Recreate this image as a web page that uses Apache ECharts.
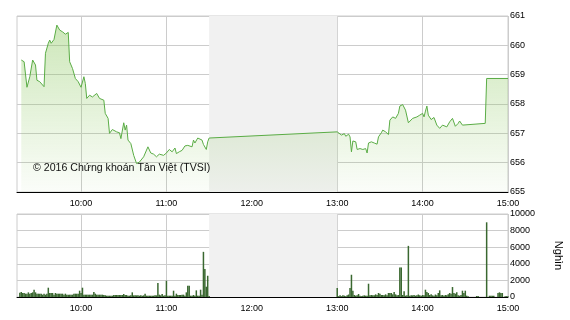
<!DOCTYPE html>
<html><head><meta charset="utf-8">
<script src="https://cdn.jsdelivr.net/npm/echarts@6/dist/echarts.min.js"></script>
<style>html,body{margin:0;padding:0;background:#fff}#c{width:570px;height:320px}</style>
</head><body><div id="c"></div>
<script>
// Price (VN-Index intraday)
const priceTimes = ['09:18','09:20','09:22','09:24','09:26','09:28','09:29','09:31','09:34','09:35',
 '09:37','09:38','09:39','09:41','09:42','09:43','09:44','09:45','09:47','09:49',
 '09:51','09:52','09:54','09:56','09:58','10:00','10:02','10:03','10:04','10:06',
 '10:08','10:11','10:13','10:16','10:17','10:19','10:20','10:22','10:25','10:27',
 '10:28','10:30','10:31','10:32','10:33','10:35','10:37','10:39','10:41','10:44',
 '10:47','10:49','10:51','10:53','10:55','10:58','11:00','11:02','11:04','11:06',
 '11:07','11:09','11:11','11:13','11:15','11:18','11:19','11:20','11:22','11:25',
 '11:26','11:28','11:29','11:30',
 '13:00','13:03','13:05','13:06','13:08','13:09','13:10','13:11','13:13','13:14',
 '13:16','13:18','13:20','13:21','13:22','13:24','13:26','13:28','13:29','13:31',
 '13:32','13:34','13:36','13:37','13:39','13:41','13:43','13:44','13:46','13:48',
 '13:50','13:51','13:53','13:54','13:56','13:58','14:00','14:01','14:02','14:03',
 '14:04','14:06','14:08','14:10','14:12','14:14','14:17','14:19','14:21','14:23',
 '14:25','14:26','14:28','14:29','14:44','14:45','15:00'];
const priceValues = [659.50,659.44,658.57,658.93,659.50,659.33,658.81,658.76,658.59,659.73,
 660.07,660.18,660.07,660.20,660.18,660.69,660.64,660.52,660.46,660.38,
 660.44,659.44,659.21,658.87,658.76,658.57,658.93,658.70,658.19,658.30,
 658.24,658.36,658.19,658.13,657.68,657.51,657.00,657.13,657.05,657.02,
 656.82,657.36,657.11,657.28,656.77,656.65,656.25,655.97,656.02,656.20,
 656.54,656.33,656.29,656.20,656.29,656.25,656.33,656.45,656.37,656.50,
 656.31,656.37,656.42,656.57,656.59,656.54,656.77,656.67,656.84,656.77,
 656.62,656.45,656.71,656.84,
 657.05,656.94,656.99,656.90,656.97,656.88,656.37,656.74,656.71,656.45,
 656.48,656.45,656.48,656.33,656.67,656.71,656.67,656.63,656.88,657.02,
 657.11,657.05,656.96,657.45,657.56,657.51,657.68,657.93,657.98,657.79,
 657.36,657.39,657.51,657.45,657.56,657.62,657.68,657.56,657.76,657.93,
 657.62,657.47,657.54,657.28,657.17,657.28,657.22,657.39,657.51,657.24,
 657.34,657.42,657.28,657.34,657.34,658.87,658.87];

// Volume (thousand shares) per minute
const volMorningStart = '09:17';
const volMorning = [500,600,480,480,400,400,560,400,480,560,
 880,560,400,400,400,400,280,400,280,400,
 1120,480,480,480,280,480,400,400,400,400,
 400,280,400,280,280,280,280,280,400,400,
 400,400,760,480,1120,280,280,280,280,280,
 280,280,600,400,280,280,280,280,280,240,
 200,160,160,160,160,160,240,240,240,240,
 240,240,240,360,240,240,160,160,200,560,
 200,200,200,200,160,200,160,200,400,160,
 160,160,160,160,160,200,200,1680,280,200,
 360,160,200,1960,160,160,160,160,760,160,
 400,240,240,240,280,280,160,560,1360,1360,
 160,160,240,160,800,160,160,880,280,5440,
 3360,1240,2560,120];
const volAfternoonStart = '13:00';
const volAfternoon = [1080,100,200,100,200,160,100,200,300,1080,
 2680,760,240,160,200,360,160,100,160,200,
 160,160,1600,200,240,200,200,320,240,480,
 400,240,240,200,320,200,480,480,480,320,
 600,320,200,240,3560,3560,240,680,160,200,
 6160,160,200,200,240,160,200,300,200,160,
 240,200,880,600,480,240,320,200,160,300,
 200,480,800,200,240,160,240,200,320,480,
 400,1200,480,400,560,200,160,240,760,480,
 760,160,100,0,0,0,0,0,120,120,
 0,0,0,0,0,9000,0,150,150,150,
 150,0,0,480,560,480,480,0,100,100,
 100];

const priceTicks = [655,656,657,658,659,660,661];
const volTicks = [0,2000,4000,6000,8000,10000];
const lunchBreak = ['11:30','13:00'];
const copyright = '© 2016 Chứng khoán Tân Việt (TVSI)';
const volUnit = 'Nghìn';

function pad(n){return (n<10?'0':'')+n;}
function toMin(t){const p=t.split(':');return (+p[0])*60+(+p[1]);}
function toStr(m){return pad(Math.floor(m/60))+':'+pad(m%60);}
const startMin = toMin('09:15'), endMin = toMin('15:00');
const categories = [];
for (let m=startMin; m<=endMin; m++) categories.push(toStr(m));

const priceData = categories.map(()=>null);
priceTimes.forEach((t,i)=>{priceData[toMin(t)-startMin]=priceValues[i];});
const volData = [];
volMorning.forEach((v,i)=>{ if(v) volData.push([toMin(volMorningStart)-startMin+i, v]); });
volAfternoon.forEach((v,i)=>{ if(v) volData.push([toMin(volAfternoonStart)-startMin+i, v]); });

const isHour = (idx,val)=> val.slice(3)==='00';
const font = 'Liberation Sans, Arial, sans-serif';
const labelStyle = {color:'#000', fontSize:9, fontFamily:font};

function shadeSeries(gi, yMin, yMax){
  return {type:'custom', xAxisIndex:gi, yAxisIndex:gi, z:1, silent:true,
    data:[[lunchBreak[0], lunchBreak[1], yMin, yMax]],
    encode:{x:[0,1], y:[2,3]},
    renderItem:function(params, api){
      const p0 = api.coord([api.value(0), api.value(3)]);
      const p1 = api.coord([api.value(1), api.value(2)]);
      return {type:'rect', shape:{x:p0[0], y:p0[1], width:p1[0]-p0[0], height:p1[1]-p0[1]},
              style:{fill:'#f1f1f1'}};
    }};
}

const chart = echarts.init(document.getElementById('c'), null, {renderer:'canvas'});
chart.setOption({
  animation:false,
  grid:[
    {left:17, right:62, top:16, height:176, show:true, borderColor:'#cccccc', borderWidth:1, outerBoundsMode:'none', containLabel:false},
    {left:17, right:62, top:214, height:83, show:true, borderColor:'#cccccc', borderWidth:1, outerBoundsMode:'none', containLabel:false}
  ],
  xAxis:[
    {type:'category', gridIndex:0, data:categories, boundaryGap:false,
     axisLine:{show:true, lineStyle:{color:'#000', width:1}}, axisTick:{show:false},
     axisLabel:Object.assign({interval:isHour, margin:7}, labelStyle),
     splitLine:{show:true, interval:isHour, lineStyle:{color:'#cccccc', width:1}}},
    {type:'category', gridIndex:1, data:categories, boundaryGap:false,
     axisLine:{show:true, lineStyle:{color:'#000', width:1}}, axisTick:{show:false},
     axisLabel:Object.assign({interval:isHour, margin:7}, labelStyle),
     splitLine:{show:true, interval:isHour, lineStyle:{color:'#cccccc', width:1}}}
  ],
  yAxis:[
    {type:'value', gridIndex:0, position:'right', min:priceTicks[0], max:priceTicks[priceTicks.length-1], interval:1,
     axisLine:{show:false}, axisTick:{show:false},
     axisLabel:Object.assign({margin:2, formatter:v=>String(v)}, labelStyle),
     splitLine:{show:true, lineStyle:{color:'#cccccc', width:1}}},
    {type:'value', gridIndex:1, position:'right', min:volTicks[0], max:volTicks[volTicks.length-1], interval:2000,
     axisLine:{show:false}, axisTick:{show:false},
     axisLabel:Object.assign({margin:2, formatter:v=>String(v)}, labelStyle),
     splitLine:{show:true, lineStyle:{color:'#cccccc', width:1}},
     name:volUnit, nameLocation:'middle', nameRotate:-90, nameGap:45,
     nameTextStyle:{color:'#000', fontSize:11, fontFamily:font}}
  ],
  series:[
    shadeSeries(0, priceTicks[0], priceTicks[priceTicks.length-1]),
    shadeSeries(1, volTicks[0], volTicks[volTicks.length-1]),
    {type:'line', xAxisIndex:0, yAxisIndex:0, data:priceData, connectNulls:true, showSymbol:false, z:3,
     lineStyle:{color:'#5aac45', width:1},
     areaStyle:{color:new echarts.graphic.LinearGradient(0,0,0,1,[
        {offset:0, color:'rgba(140,200,95,0.62)'},
        {offset:1, color:'rgba(140,200,95,0.05)'}])}},
    {type:'custom', xAxisIndex:1, yAxisIndex:1, data:volData, z:3, silent:true,
     encode:{x:0, y:1},
     renderItem:function(params, api){
       const top = api.coord([api.value(0), api.value(1)]);
       const base = api.coord([api.value(0), 0]);
       return {type:'rect', shape:{x:top[0]-0.75, y:top[1], width:1.5, height:base[1]-top[1]},
               style:{fill:'#3a6830'}};
     }}
  ],
  graphic:[
    {type:'text', left:33, top:163, z:10,
     style:{text:copyright, fill:'#111', font:'10.6px '+font}}
  ]
});
</script></body></html>
